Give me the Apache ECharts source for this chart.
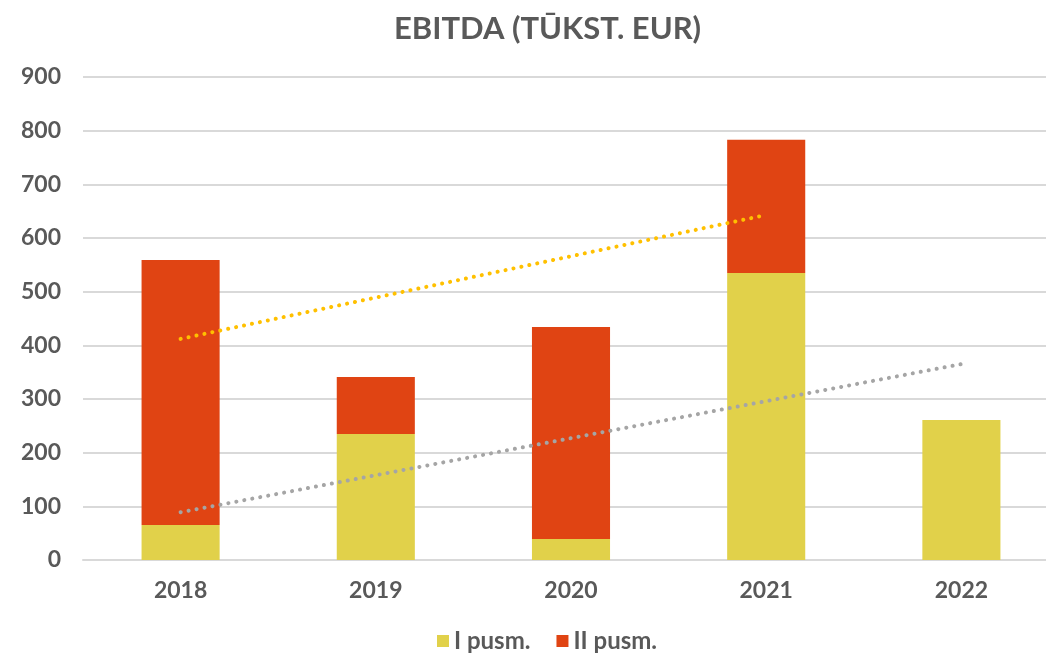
<!DOCTYPE html>
<html>
<head>
<meta charset="utf-8">
<script src="https://cdn.jsdelivr.net/npm/echarts@6/dist/echarts.min.js"></script>
<style>
  html, body { margin: 0; padding: 0; background: #fff; overflow: hidden; }
  /* plot area runs past the right edge in the reference, so the canvas is a bit wider than the window */
  #chart { width: 1060px; height: 654px; }
</style>
</head>
<body>
<div id="chart"></div>
<script>
// data
const years = ['2018', '2019', '2020', '2021', '2022']
const firstHalf = [65, 235, 39, 535, 261]
const secondHalf = [494, 106, 395, 248, '-']
// trendline endpoints (2018 -> 2021 for totals, 2018 -> 2022 for I pusm.)
const totalTrend = [412, '-', '-', 643, '-']
const firstTrend = [89, '-', '-', '-', 365]
const yTicks = { min: 0, max: 900, interval: 100 }

const font = 'Lato'
const grey = '#595959'

const chart = echarts.init(document.getElementById('chart'))
const option = {
  animation: false,
  title: {
    text: 'EBITDA (TŪKST. EUR)',
    left: 389,
    top: 8,
    textStyle: { fontFamily: font, fontWeight: 'bold', fontSize: 31, color: grey }
  },
  legend: {
    data: ['I pusm.', 'II pusm.'],
    top: 624,
    left: 432,
    itemWidth: 12,
    itemHeight: 12,
    itemGap: 26,
    icon: 'rect',
    textStyle: { fontFamily: font, fontWeight: 'bold', fontSize: 24, color: grey }
  },
  grid: { left: 83, right: 1, top: 77, bottom: 94, containLabel: false },
  xAxis: {
    type: 'category',
    data: years,
    axisTick: { show: false },
    axisLine: { lineStyle: { color: '#D9D9D9', width: 2 } },
    axisLabel: { margin: 19, fontFamily: font, fontWeight: 'bold', fontSize: 23, color: grey }
  },
  yAxis: {
    type: 'value',
    min: yTicks.min,
    max: yTicks.max,
    interval: yTicks.interval,
    splitLine: { lineStyle: { color: '#D9D9D9', width: 2 } },
    axisLabel: { margin: 22, fontFamily: font, fontWeight: 'bold', fontSize: 23, color: grey }
  },
  series: [
    {
      name: 'I pusm.',
      type: 'bar',
      stack: 'total',
      barWidth: '40%',
      itemStyle: { color: '#E1D14A' },
      data: firstHalf
    },
    {
      name: 'II pusm.',
      type: 'bar',
      stack: 'total',
      itemStyle: { color: '#E04413' },
      data: secondHalf
    },
    {
      name: 'trend total',
      type: 'line',
      connectNulls: true,
      showSymbol: false,
      symbol: 'none',
      lineStyle: { color: '#FFC000', width: 4, type: [0.1, 8], cap: 'round' },
      data: totalTrend,
      z: 5
    },
    {
      name: 'trend I',
      type: 'line',
      connectNulls: true,
      showSymbol: false,
      symbol: 'none',
      lineStyle: { color: '#A5A5A5', width: 4, type: [0.1, 8], cap: 'round' },
      data: firstTrend,
      z: 5
    }
  ]
}
chart.setOption(option)
</script>
</body>
</html>
